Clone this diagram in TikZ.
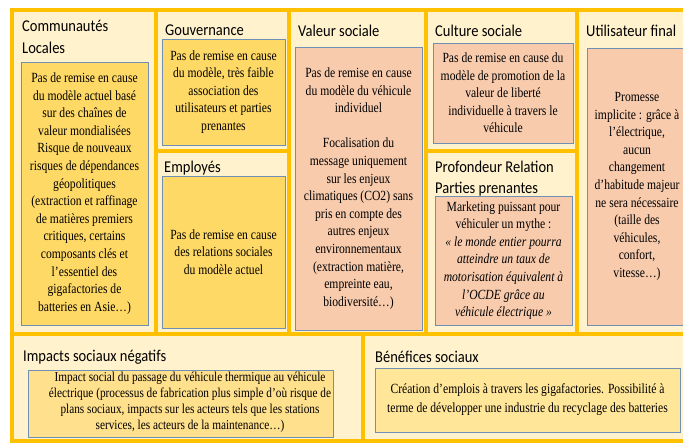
\documentclass[tikz,border=0pt]{standalone}
\usepackage{fontspec}
\setmainfont[FakeStretch=0.83]{Liberation Serif}
\newfontfamily\titlefont[FakeStretch=0.88]{Carlito}
\usetikzlibrary{positioning}
\definecolor{cellborder}{HTML}{FFC000}
\definecolor{cellfill}{HTML}{FFF2CC}
\definecolor{boxyellow}{HTML}{FFD966}
\definecolor{boxpale}{HTML}{FFE08C}
\definecolor{boxlight}{HTML}{FFE699}
\definecolor{boxsalmon}{HTML}{F8CBAD}
\definecolor{boxline}{HTML}{6F8FB4}

\begin{document}
\begin{tikzpicture}[x=1pt, y=-1pt,
    cell/.style={draw=cellborder, line width=4pt, fill=cellfill},
    title/.style={anchor=base west, inner sep=0pt, font=\titlefont\fontsize{16.5}{20}\selectfont},
    txtbox/.style={draw=boxline, line width=0.9pt, align=center, inner sep=1pt, font=\fontsize{14}{17.6}\selectfont}]
    \useasboundingbox (0,0) rectangle (683,442);

    % cells
    \draw[cell] (12,10) rectangle (156,334);
    \draw[cell] (156,10) rectangle (289,151);
    \draw[cell] (156,151) rectangle (289,334);
    \draw[cell] (289,10) rectangle (426,334);
    \draw[cell] (426,10) rectangle (577,151);
    \draw[cell] (426,151) rectangle (577,334);
    \draw[cell] (577,10) rectangle (690,334);
    \draw[cell] (12,334) rectangle (363,441);
    \draw[cell] (363,334) rectangle (690,441);

    % titles
    \node[title] (commtitle) at (22,31) {Communautés};
    \node[title] (commtitleb) at (22,53) {Locales};
    \node[title] (gouvtitle) at (165,35) {Gouvernance};
    \node[title] (empltitle) at (164,172) {Employés};
    \node[title] (valtitle) at (298,36) {Valeur sociale};
    \node[title] (culttitle) at (435,36) {Culture sociale};
    \node[title] (proftitle) at (435,172) {Profondeur Relation};
    \node[title] (proftitleb) at (435,193) {Parties prenantes};
    \node[title] (usertitle) at (586,36) {Utilisateur final};
    \node[title] (imptitle) at (23,361) {Impacts sociaux négatifs};
    \node[title] (bentitle) at (375,362) {Bénéfices sociaux};

    % text boxes
    \node[txtbox, fill=boxyellow, minimum width=127pt, minimum height=263pt] (commbox) at (84.5,193.5)
        {Pas de remise en cause\\du modèle actuel basé\\sur des chaînes de\\valeur mondialisées\\Risque de nouveaux\\risques de dépendances\\géopolitiques\\(extraction et raffinage\\de matières premiers\\critiques, certains\\composants clés et\\l’essentiel des\\gigafactories de\\batteries en Asie…)};
    \node[txtbox, fill=boxyellow, minimum width=123pt, minimum height=106pt] (gouvbox) at (223.5,92)
        {Pas de remise en cause\\du modèle, très faible\\association des\\utilisateurs et parties\\prenantes};
    \node[txtbox, fill=boxyellow, minimum width=123pt, minimum height=152pt] (emplbox) at (223.5,252)
        {Pas de remise en cause\\des relations sociales\\du modèle actuel};
    \node[txtbox, fill=boxsalmon, minimum width=127pt, minimum height=283pt] (valbox) at (358.5,188.5)
        {Pas de remise en cause\\du modèle du véhicule\\individuel\\[17.6pt]Focalisation du\\message uniquement\\sur les enjeux\\climatiques (CO2) sans\\pris en compte des\\autres enjeux\\environnementaux\\(extraction matière,\\empreinte eau,\\biodiversité…)};
    \node[txtbox, fill=boxsalmon, minimum width=140pt, minimum height=100pt] (cultbox) at (503,93)
        {Pas de remise en cause du\\modèle de promotion de la\\valeur de liberté\\individuelle à travers le\\véhicule};
    \node[txtbox, fill=boxsalmon, minimum width=137pt, minimum height=129pt] (profbox) at (503.5,260.5)
        {Marketing puissant pour\\véhiculer un mythe :\\\textit{« le monde entier pourra}\\\textit{atteindre un taux de}\\\textit{motorisation équivalent à}\\\textit{l’OCDE grâce au}\\\textit{véhicule électrique »}};
    \node[txtbox, fill=boxsalmon, minimum width=100pt, minimum height=277pt, inner sep=0pt] (userbox) at (637,186.5)
        {Promesse\\implicite : grâce à\\l’électrique,\\aucun\\changement\\d’habitude majeur\\ne sera nécessaire\\(taille des\\véhicules,\\confort,\\vitesse…)};
    \node[txtbox, fill=boxpale, minimum width=305pt, minimum height=67pt] (impbox) at (180.5,403.5) {};
    \node[align=center, inner sep=0pt, font=\fontsize{13.6}{16}\selectfont] (imptext) at (190,402)
        {Impact social du passage du véhicule thermique au véhicule\\électrique (processus de fabrication plus simple d’où risque de\\plans sociaux, impacts sur les acteurs tels que les stations\\services, les acteurs de la maintenance…)};
    \node[txtbox, fill=boxlight, minimum width=305pt, minimum height=64pt, font=\fontsize{14}{19}\selectfont] (benbox) at (527.5,400)
        {Création d’emplois à travers les gigafactories. Possibilité à\\terme de développer une industrie du recyclage des batteries};
\end{tikzpicture}
\end{document}
